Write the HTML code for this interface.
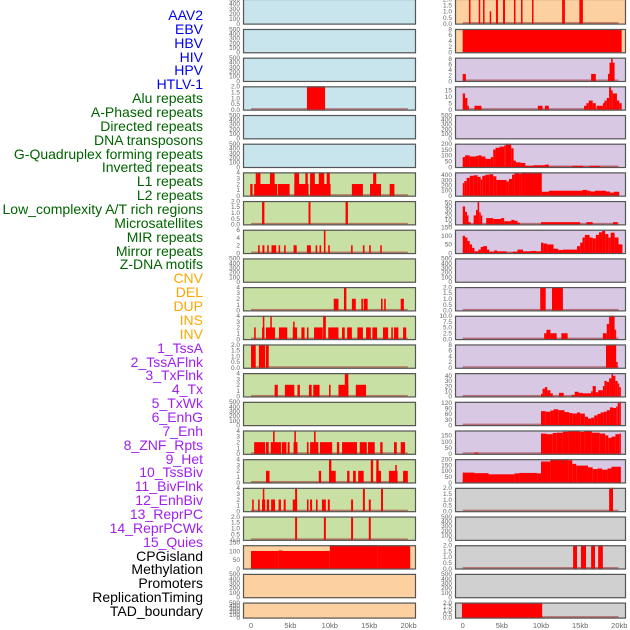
<!DOCTYPE html>
<html><head><meta charset="utf-8"><style>
body{margin:0;background:#fff;width:630px;height:630px;overflow:hidden;position:relative;font-family:"Liberation Sans",sans-serif}
.lab{position:absolute;right:427px;font-size:14px;line-height:14px;white-space:nowrap}
svg{position:absolute;left:0;top:0}
</style></head><body>
<div id="labels"></div>
<svg id="chart" width="630" height="630"></svg>
<script>
const labelNames=["AAV2","EBV","HBV","HIV","HPV","HTLV-1","Alu repeats","A-Phased repeats","Directed repeats","DNA transposons","G-Quadruplex forming repeats","Inverted repeats","L1 repeats","L2 repeats","Low_complexity A/T rich regions","Microsatellites","MIR repeats","Mirror repeats","Z-DNA motifs","CNV","DEL","DUP","INS","INV","1_TssA","2_TssAFlnk","3_TxFlnk","4_Tx","5_TxWk","6_EnhG","7_Enh","8_ZNF_Rpts","9_Het","10_TssBiv","11_BivFlnk","12_EnhBiv","13_ReprPC","14_ReprPCWk","15_Quies","CPGisland","Methylation","Promoters","ReplicationTiming","TAD_boundary"];
const labelColors=["#0000ee",6,"#006400",13,"#ffa500",5,"#a020f0",15,"#000000",5];
const xTicks=[0,5,10,15,20];
const xTickLabels=["0","5kb","10kb","15kb","20kb"];
const midYmax=[500,500,500,2,500,500,4,2,6,500,4,4,2,4,500,4,4,4,2,133,500,500];
const rightYmax=[2,8,8.3,18,500,200,445,52,135,500,2,10,8,45,125,190,200,2,500,2,500,2];
const midFill=["#c8e4ec",6,"#c8e0a4",13,"#fdd0a0",3];
const rightFill=["#fdd0a0",2,"#d8c8e4",15,"#d0d0d0",5];
const m3=[[7.1,9.4,2]];
const m6=[[-0.1,0.2,2],[0.4,1.1,2],[0.6,1.2,4],[1.1,3.3,2],[2.4,3.0,4],[3.4,4.9,2],[5.5,6.1,4],[5.5,7.3,2],[6.9,7.2,4],[7.5,10.1,2],[7.5,8.1,4],[8.6,9.3,4],[9.6,10.0,4],[12.8,14.2,2],[15.1,16.5,2],[15.5,15.9,4],[17.6,18.2,2]];
const m7=[[1.4,1.7,2],[7.3,7.55,2],[12.0,12.3,2]];
const m8=[[0.9,1.1,2],[1.45,1.7,2],[2.05,2.25,2],[2.6,3.2,2],[3.5,3.7,2],[4.2,4.4,2],[5.4,5.8,2],[7.1,7.6,2],[8.2,8.4,2],[8.7,8.9,2],[9.8,10.0,2],[12.7,12.9,2],[14.2,14.4,2],[15.0,15.2,2],[16.4,16.6,2],[9.25,9.45,6]];
const m10=[[10.5,11.1,2],[11.8,12.1,4],[12.8,13.3,2],[14.0,14.2,2],[14.3,14.8,2],[16.5,16.7,2],[16.9,17.1,2],[19.0,19.4,2]];
const m11=[[0.4,0.6,2],[1.4,1.7,2],[1.5,1.65,4],[1.9,3.05,2],[2.45,2.6,4],[3.55,4.6,2],[5.3,5.85,2],[5.35,5.5,3],[6.4,6.8,2],[7.1,7.3,2],[8.0,9.1,2],[9.15,9.5,4],[9.8,11.1,2],[11.55,11.9,2],[12.2,12.8,2],[13.5,14.2,2],[14.6,15.2,2],[15.4,16.0,2],[16.75,17.4,2],[17.8,18.0,2],[18.15,18.7,2],[19.3,19.7,2]];
const m12=[[0,0.6,2],[1.0,1.8,2],[1.9,2.25,2]];
const m13=[[3.0,3.4,2],[4.3,5.5,2],[5.9,6.2,2],[7.35,7.7,2],[7.9,8.7,2],[9.9,10.1,2],[11.1,12.35,2],[11.9,12.35,4],[13.3,14.6,2]];
const m15=[[0.4,1.8,2],[1.9,2.25,2],[2.5,3.8,2],[2.8,3.0,4],[3.9,4.5,2],[4.65,4.9,2],[5.4,5.9,2],[5.5,5.7,4],[7.1,7.3,2],[7.5,8.55,2],[8.0,8.2,4],[8.75,10.3,2],[10.9,11.2,2],[11.55,13.45,2],[13.8,14.7,2],[14.85,15.7,2],[16.4,16.7,2],[18.15,18.5,2],[19.0,19.55,2]];
const m16=[[1.9,2.35,2],[8.6,8.9,2],[9.9,10.75,2],[9.9,10.2,4],[12.2,12.5,2],[12.95,13.3,2],[13.6,14.3,2],[15.2,15.5,4],[15.9,16.5,2],[15.9,16.2,4],[17.5,18.6,2],[18.3,18.5,3],[19.3,19.9,2]];
const m17=[[0.15,0.35,2],[0.9,1.1,2],[1.4,1.8,2],[1.5,1.65,4],[2.0,2.3,2],[2.55,3.05,2],[3.5,3.8,2],[4.15,4.4,2],[5.3,5.85,2],[5.6,5.85,4],[7.1,7.3,2],[7.5,7.75,2],[8.25,8.45,2],[9.0,9.5,2],[9.75,10.0,2],[12.7,12.95,2],[14.2,14.45,4],[14.95,15.2,2],[16.5,16.75,4]];
const m18=[[5.6,5.85,2],[9.25,9.5,2],[12.7,12.95,2],[14.95,15.2,2]];
const m19=[[0,3.5,100],[3.5,4,103],[4,10,100],[10,16,133],[16,20.2,131]];
const r0=[[0.8,0.95,2],[2.05,2.2,2],[2.6,2.75,2],[3.45,3.6,1],[4.25,4.5,2],[5.15,5.4,2],[6.55,6.7,2],[7.45,7.6,2],[8.85,9.0,2],[12.7,13.05,2],[14.9,15.35,2]];
const r1=[[0,20.3,8]];
const r2=[[0,0.4,2.5],[16.4,17.0,2.5],[18.55,18.75,2.5],[18.75,19.4,6.5],[18.95,19.15,8.3]];
const r3=[[0,0.3,12.5],[0.3,0.6,9],[0.6,0.75,3],[1.5,2.4,3],[9.6,10.2,3],[10.5,11.0,3],[15.5,15.8,3],[15.8,16.1,5],[16.1,16.6,7],[16.6,17.0,5],[17.1,17.9,3],[17.9,18.1,5],[18.1,18.4,7],[18.4,18.7,9],[18.7,18.95,18],[18.95,19.15,15],[19.15,19.7,12.5],[19.7,20.0,7],[20.0,20.3,5]];
const r5=[[0,0.3,85],[0.3,0.9,100],[0.9,1.7,90],[1.7,2.0,95],[2.0,2.4,100],[2.4,2.9,90],[2.9,3.6,70],[3.6,3.9,85],[3.9,4.2,150],[4.2,4.7,165],[4.7,5.3,175],[5.3,5.5,185],[5.5,6.2,200],[6.2,6.5,160],[6.5,6.8,55],[6.8,7.4,40],[7.4,8.0,35],[8.0,9.0,10],[9.0,10.5,15],[10.5,11.0,20],[11.0,14.0,3],[14.0,15.4,10],[15.4,16.2,3],[16.2,17.5,10],[17.5,19.8,2]];
const r6=[[0,0.2,240],[0.2,0.5,280],[0.5,0.9,340],[0.9,1.4,380],[1.4,1.9,390],[1.9,2.3,360],[2.3,2.5,310],[2.5,2.9,380],[2.9,3.4,400],[3.4,3.9,410],[3.9,4.3,370],[4.3,5.6,300],[5.6,5.9,270],[5.9,6.3,320],[6.3,6.6,400],[6.6,7.2,430],[7.2,7.5,420],[7.5,10.1,445],[10.1,11.0,75],[11.0,15.3,95],[15.3,15.9,110],[15.9,16.3,95],[16.3,16.9,80],[16.9,18.3,95],[18.3,18.8,80],[18.8,19.3,60],[19.3,20.0,75]];
const r7=[[0,0.3,40],[0.3,0.55,28],[0.55,0.7,20],[0.7,1.0,5],[1.4,1.7,20],[1.7,1.9,32],[1.9,2.1,50],[2.1,2.3,27],[2.3,2.5,20],[3.0,3.9,14],[3.9,4.9,12],[4.9,5.3,14],[5.3,6.2,7],[6.2,6.6,10],[6.6,7.0,8],[7.0,7.3,4],[10.0,15.0,5],[15.8,16.6,5],[19.2,19.8,5]];
const r8=[[0,0.3,100],[0.3,0.6,90],[0.6,0.9,70],[0.9,1.2,50],[1.2,1.5,30],[1.5,2.0,10],[2.0,2.3,20],[2.3,2.6,35],[2.6,3.1,40],[3.1,3.4,20],[3.4,4.0,8],[4.0,4.4,15],[4.4,5.6,10],[5.6,6.4,2],[6.4,7.0,8],[7.0,7.7,20],[7.7,8.7,10],[8.7,9.4,12],[9.4,10.0,10],[10.0,10.3,60],[10.3,10.8,55],[10.8,11.6,50],[11.6,12.2,25],[12.2,12.8,18],[12.8,14.6,20],[14.6,15.0,40],[15.0,15.3,60],[15.3,15.6,90],[15.6,16.2,105],[16.2,16.6,90],[16.6,17.0,85],[17.0,17.4,105],[17.4,17.8,120],[17.8,18.2,128],[18.2,18.6,110],[18.6,18.9,90],[18.9,19.4,118],[19.4,19.9,90],[19.9,20.4,50]];
const r10=[[9.9,10.6,2],[11.4,12.8,2]];
const r11=[[10.4,10.7,2.5],[10.7,11.2,4],[11.2,12.0,2.5],[12.6,13.4,2.5],[17.9,18.4,2.5],[18.4,18.7,6.5],[18.7,19.4,10],[19.4,19.6,4]];
const r12=[[18.3,19.6,8],[19.6,19.8,2]];
const r13=[[10.0,10.2,5],[10.2,10.5,15],[10.5,10.8,18],[10.8,11.2,12],[11.2,11.5,6],[12.3,12.9,7],[13.9,14.3,3],[14.3,14.8,9],[14.8,15.3,7],[15.3,16.4,6],[16.4,16.6,10],[16.6,17.0,20],[17.0,17.3,8],[17.3,17.9,12],[17.9,18.1,20],[18.1,18.4,30],[18.4,18.7,28],[18.7,19.0,35],[19.0,19.2,45],[19.2,19.5,40],[19.5,19.8,30],[19.8,20.0,25],[20.0,20.2,18]];
const r14=[[10.0,10.6,75],[10.6,11.2,72],[11.2,11.6,78],[11.6,12.2,85],[12.2,13.0,80],[13.0,13.6,70],[13.6,14.0,65],[14.0,14.6,62],[14.6,15.0,68],[15.0,15.6,62],[15.6,16.0,45],[16.0,16.4,35],[16.4,16.8,40],[16.8,17.2,52],[17.2,17.6,60],[17.6,18.0,68],[18.0,18.4,72],[18.4,18.8,80],[18.8,19.2,95],[19.2,19.6,92],[19.6,19.8,100],[19.8,20.0,118],[20.0,20.2,125]];
const r15=[[1.5,2.0,10],[10.0,10.7,165],[10.7,11.5,160],[11.5,12.0,170],[12.0,12.8,172],[12.8,13.5,180],[13.5,15.0,185],[15.0,15.5,178],[15.5,16.5,185],[16.5,17.5,172],[17.5,18.2,165],[18.2,18.6,150],[18.6,19.0,130],[19.0,19.5,140],[19.5,20.0,160],[20.0,20.2,165]];
const r16=[[0,1.5,85],[1.5,3.3,80],[3.3,6.6,70],[6.6,7.2,78],[7.2,9.5,82],[9.5,10.0,78],[10.0,11.2,180],[11.2,13.5,200],[13.5,14.0,190],[14.0,14.5,160],[14.5,16.0,145],[16.0,16.6,130],[16.6,17.2,115],[17.2,17.8,120],[17.8,18.5,110],[18.5,19.0,120],[19.0,20.2,135]];
const r17=[[18.7,19.2,2]];
const r19=[[14.1,14.6,2],[15.1,15.75,2],[16.4,16.9,2],[17.3,17.9,2]];
const r21=[[-0.1,10.15,2]];
const midBars={3:m3,6:m6,7:m7,8:m8,10:m10,11:m11,12:m12,13:m13,15:m15,16:m16,17:m17,18:m18,19:m19};
const rightBars={0:r0,1:r1,2:r2,3:r3,5:r5,6:r6,7:r7,8:r8,10:r10,11:r11,12:r12,13:r13,14:r14,15:r15,16:r16,17:r17,19:r19,21:r21};

const labDiv=document.getElementById('labels');
let ci=0,cnt=0;
labelNames.forEach((n,i)=>{
  while(cnt>=labelColors[ci+1]){ci+=2;cnt=0;}
  cnt++;
  const d=document.createElement('div');
  d.className='lab';
  d.style.top=(8+i*13.86)+'px';
  d.style.color=labelColors[ci];
  d.textContent=n;
  
  
  labDiv.appendChild(d);
});

const NS='http://www.w3.org/2000/svg';
const svg=document.getElementById('chart');
function el(t,a,p){const e=document.createElementNS(NS,t);for(const k in a)e.setAttribute(k,a[k]);(p||svg).appendChild(e);return e;}
function fillFor(spec,i){let acc=0;for(let k=0;k<spec.length;k+=2){acc+=spec[k+1];if(i<acc)return spec[k];}return spec[0];}
function ticksFor(ymax){
  if(ymax===500)return [0,100,200,300,400,500];
  if(ymax===2)return [0,0.5,1,1.5,2];
  if(ymax===4)return [0,1,2,3,4];
  if(ymax===6)return [0,2,4,6];
  if(ymax<=8.3)return [0,2,4,6,8];
  if(ymax===10)return [0,2.5,5,7.5,10];
  if(ymax===18)return [0,5,10,15];
  if(ymax===52)return [0,10,20,30,40,50];
  if(ymax===45)return [0,10,20,30,40];
  if(ymax===125)return [0,30,60,90,120];
  if(ymax===200)return [0,50,100,150,200];
  if(ymax===445)return [0,100,200,300,400];
  return [0,50,100,150];
}
function fmt(v,ymax){if(ymax===2||ymax===10)return v.toFixed(1);return String(v);}
const cols=[{name:'mid',x0:243,x1:416,kx0:251,ks:7.88,tx:240,ymax:midYmax,fill:midFill,bars:midBars},
            {name:'right',x0:455,x1:626,kx0:462.7,ks:7.83,tx:452,ymax:rightYmax,fill:rightFill,bars:rightBars}];
cols.forEach(c=>{
  for(let i=0;i<22;i++){
    const top=(i===0?-1:0.3)+i*28.68, h=(i===21)?16:(i===0?25.6:24.3), bot=top+h-1;
    const g=el('g',{});
    
    
    el('rect',{x:c.x0,y:top,width:c.x1-c.x0,height:h,fill:fillFor(c.fill,i)},g);
    const ymax=c.ymax[i];
    const yS=v=>bot-v/ymax*(h-1);
    const xS=k=>c.kx0+k*c.ks;
    const bars=c.bars[i];
    if(bars){
      el('rect',{x:xS(0),y:bot-1.5,width:xS(19.9)-xS(0),height:1.5,fill:'rgba(160,40,40,0.55)'},g);
      bars.forEach(b=>{
        const r=el('rect',{x:xS(b[0]),y:yS(b[2]),width:Math.max(1.5,xS(b[1])-xS(b[0])),height:bot-yS(b[2]),fill:'#ff0000'},g);
        
        
      });
    }
    el('rect',{x:c.x0+0.5,y:top+0.5,width:c.x1-c.x0-1,height:h-1,fill:'none',stroke:'#555',"stroke-width":1.2},g);
    ticksFor(ymax).forEach(t=>{
      const tt=el('text',{x:c.tx,y:yS(t)+2.3,"font-size":6.5,fill:'#666',"text-anchor":'end',"font-family":'Liberation Sans, sans-serif'},g);
      tt.textContent=fmt(t,ymax);
    });
  }
  xTicks.forEach((k,j)=>{
    const t=el('text',{x:c.kx0+k*c.ks,y:628,"font-size":7.5,fill:'#666',"text-anchor":'middle',"font-family":'Liberation Sans, sans-serif'});
    
    
    t.textContent=xTickLabels[j];
  });
});
</script>
</body></html>
